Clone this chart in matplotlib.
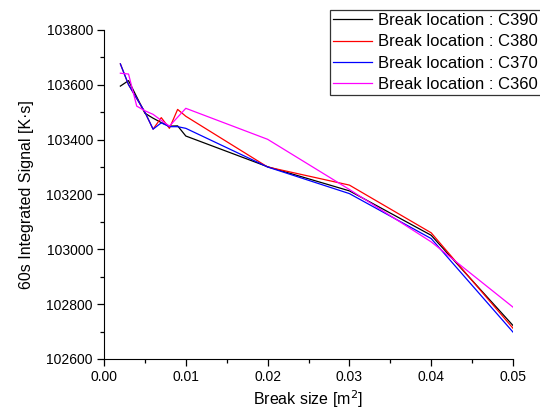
import matplotlib
matplotlib.use("Agg")
import matplotlib.pyplot as plt
from matplotlib.ticker import MultipleLocator

plt.rcParams['font.family'] = ['Liberation Sans', 'DejaVu Sans']

# break sizes [m2] and integrated signal for each break location
size_c390 = [0.002, 0.003, 0.005, 0.006, 0.007, 0.008, 0.009, 0.01, 0.02, 0.03, 0.04, 0.05]
sig_c390 = [103595, 103615, 103496, 103478, 103462, 103449, 103450, 103413, 103301, 103213, 103051, 102722]

size_c380 = [0.002, 0.003, 0.005, 0.006, 0.007, 0.008, 0.009, 0.01, 0.02, 0.03, 0.04, 0.05]
sig_c380 = [103676, 103600, 103500, 103438, 103480, 103441, 103510, 103485, 103300, 103234, 103060, 102712]

size_c370 = [0.002, 0.003, 0.005, 0.006, 0.007, 0.008, 0.009, 0.01, 0.02, 0.03, 0.04, 0.05]
sig_c370 = [103676, 103600, 103500, 103438, 103461, 103447, 103447, 103441, 103300, 103203, 103039, 102698]

size_c360 = [0.002, 0.003, 0.004, 0.005, 0.006, 0.007, 0.008, 0.01, 0.02, 0.03, 0.04, 0.05]
sig_c360 = [103642, 103639, 103522, 103505, 103492, 103470, 103449, 103514, 103401, 103218, 103027, 102789]

fig = plt.figure(figsize=(5.4, 4.15), dpi=100)
ax = fig.add_axes([0.1926, 0.135, 0.7574, 0.793])

l1, = ax.plot(size_c390, sig_c390, color='black', lw=0.9)
l2, = ax.plot(size_c380, sig_c380, color='red', lw=0.9)
l3, = ax.plot(size_c370, sig_c370, color='blue', lw=0.9)
l4, = ax.plot(size_c360, sig_c360, color='magenta', lw=0.9)

ax.set_xlim(0, 0.05)
ax.set_ylim(102600, 103800)
ax.xaxis.set_major_locator(MultipleLocator(0.01))
ax.xaxis.set_minor_locator(MultipleLocator(0.005))
ax.yaxis.set_major_locator(MultipleLocator(200))
ax.yaxis.set_minor_locator(MultipleLocator(100))
ax.xaxis.set_major_formatter(lambda v, p: f"{v:.2f}")
ax.yaxis.set_major_formatter(lambda v, p: f"{v:.0f}")

for s in ['top', 'right']:
    ax.spines[s].set_visible(False)
ax.tick_params(which='major', direction='out', length=5, width=0.9, labelsize=10, pad=3)
ax.tick_params(which='minor', direction='out', length=3, width=0.9)

ax.set_xlabel('Break size [m$^2$]', fontsize=11.5, labelpad=3)
ax.set_ylabel('60s Integrated Signal [K·s]', fontsize=11.5, labelpad=9)

# legend box runs past the right edge of the figure
leg = fig.legend([l1, l2, l3, l4],
                 ['Break location : C390', 'Break location : C380',
                  'Break location : C370', 'Break location : C360'],
                 loc='upper left', mode='expand',
                 bbox_to_anchor=(330 / 540, 1 - 10 / 415, 216 / 540, 0),
                 fontsize=12, frameon=True, fancybox=False, shadow=False,
                 borderaxespad=0, borderpad=0.2, handlelength=2.3,
                 handletextpad=0.35, labelspacing=0.37)
leg.get_frame().set_edgecolor('black')
leg.get_frame().set_linewidth(0.9)

fig.savefig('out.png', dpi=100)
